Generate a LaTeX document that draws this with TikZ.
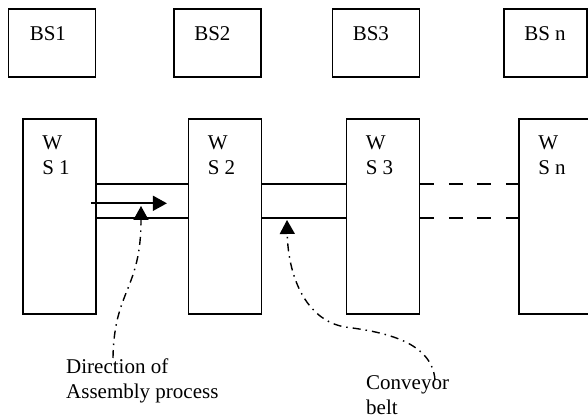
\documentclass[tikz,border=0pt]{standalone}
\usepackage{fontspec}
\setmainfont{Liberation Serif}
\usepackage{tikz}
\usetikzlibrary{arrows.meta,calc,positioning}
\tikzstyle{bsblock} = [rectangle, draw, line width=1.8pt, inner sep=0pt,
    minimum width=87pt, minimum height=68pt]
\tikzstyle{wsblock} = [rectangle, draw, line width=1.8pt, inner sep=0pt,
    minimum width=73pt, minimum height=195pt]
\tikzstyle{tag} = [font=\fontsize{21}{25}\selectfont, inner sep=0pt,
    anchor=base west, align=left]
\tikzstyle{belt} = [line width=1.7pt]
\tikzstyle{flow} = [line width=1.6pt, -{Triangle[length=14pt,width=15pt]}]
\tikzstyle{pointer} = [line width=1.4pt, dash pattern=on 8pt off 5pt on 1.5pt off 5pt,
    -{Triangle[length=14pt,width=15pt]}]

\begin{document}
\begin{tikzpicture}[x=1pt, y=-1pt]
        \useasboundingbox (0,0) rectangle (588,419);
        \clip (0,0) rectangle (588,419);

        % buffer stores
        \node[bsblock] (bs1) at (52,43.3) {};
        \node[bsblock] (bs2) at (217.5,43.3) {};
        \node[bsblock] (bs3) at (376,43.3) {};
        \node[bsblock, minimum width=83pt] (bsn) at (545.5,43.3) {};
        \node[tag] (bs1text) at ([shift={(22,32)}]bs1.north west) {BS1};
        \node[tag] (bs2text) at ([shift={(21,32)}]bs2.north west) {BS2};
        \node[tag] (bs3text) at ([shift={(21,32)}]bs3.north west) {BS3};
        \node[tag] (bsntext) at ([shift={(21,32)}]bsn.north west) {BS n};

        % work stations (base = last line)
        \node[wsblock] (ws1) at (59.5,216.7) {};
        \node[wsblock] (ws2) at (225,216.7) {};
        \node[wsblock] (ws3) at (383,216.7) {};
        \node[wsblock] (wsn) at (555.5,216.7) {};
        \node[tag] (ws1text) at ([shift={(20,56)}]ws1.north west) {W\\S 1};
        \node[tag] (ws2text) at ([shift={(20,56)}]ws2.north west) {W\\S 2};
        \node[tag] (ws3text) at ([shift={(20,56)}]ws3.north west) {W\\S 3};
        \node[tag] (wsntext) at ([shift={(20,56)}]wsn.north west) {W\\S n};

        % conveyor belt
        \draw[belt] ($(ws1.north east)+(0,65.5)$) -- ($(ws2.north west)+(0,65.5)$);
        \draw[belt] ($(ws1.north east)+(0,99.5)$) -- ($(ws2.north west)+(0,99.5)$);
        \draw[belt] ($(ws2.north east)+(0,65.5)$) -- ($(ws3.north west)+(0,65.5)$);
        \draw[belt] ($(ws2.north east)+(0,99.5)$) -- ($(ws3.north west)+(0,99.5)$);
        \draw[belt, dash pattern=on 14pt off 14.5pt] ($(ws3.north east)+(0,65.5)$) -- ($(wsn.north west)+(0,65.5)$);
        \draw[belt, dash pattern=on 14pt off 14.5pt] ($(ws3.north east)+(0,99.5)$) -- ($(wsn.north west)+(0,99.5)$);

        % direction of flow
        \coordinate (flowtail) at ($(ws1.north east)+(-6,85)$);
        \coordinate (flowhead) at ($(ws1.north east)+(70,85)$);
        \draw[flow] (flowtail) -- (flowhead);

        % labels and pointers
        \node[tag] (dirlabel) at (66,398) {Direction of\\Assembly process};
        \node[tag] (beltlabel) at (366,414) {Conveyor\\belt};
        \coordinate (dirfoot) at (113,358);
        \coordinate (dirtip) at (141,206);
        \coordinate (beltfoot) at (435,380);
        \coordinate (belttip) at (287,220);
        \draw[pointer] (dirfoot) .. controls (114,290) and (141,290) .. (dirtip);
        \draw[pointer] (beltfoot) .. controls (432,342) and (385,332) .. (345,327)
            .. controls (305,320) and (288,275) .. (belttip);
    \end{tikzpicture}
\end{document}
